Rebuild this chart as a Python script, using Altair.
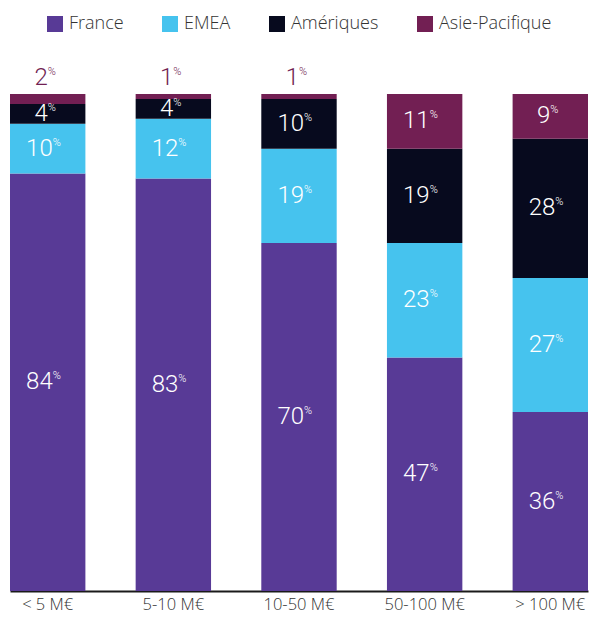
import altair as alt
import pandas as pd

categories = ["< 5 M€", "5-10 M€", "10-50 M€", "50-100 M€", "> 100 M€"]
regions = ["France", "EMEA", "Amériques", "Asie-Pacifique"]
france = [84, 83, 70, 47, 36]
emea = [10, 12, 19, 23, 27]
ameriques = [4, 4, 10, 19, 28]
asie = [2, 1, 1, 11, 9]
colors = ["#583A96", "#46C3EE", "#070A1E", "#721F53"]

rows = []
for k, (series, vals) in enumerate(zip(regions, [france, emea, ameriques, asie])):
    for c, v in zip(categories, vals):
        rows.append({"cat": c, "region": series, "value": v, "order": k})
df = pd.DataFrame(rows)

NUMFONT = "Roboto"
TXTFONT = "Open Sans"

xscale = alt.Scale(domain=categories, range=[2, 580], paddingInner=0.4, paddingOuter=0)
yscale = alt.Scale(domain=[0, 100], nice=False)

base = alt.Chart(df).transform_stack(
    stack="value", as_=["y0", "y1"], groupby=["cat"], sort=[alt.SortField("order", order="ascending")]
).transform_calculate(
    mid="(datum.y0 + datum.y1) / 2"
)

bars = base.mark_bar().encode(
    x=alt.X("cat:N", scale=xscale, sort=categories,
            axis=alt.Axis(title=None, domainColor="#1a1a1a", domainWidth=2, ticks=False,
                          labelAngle=0, labelFontSize=16.5, labelColor="#333333",
                          labelFont=TXTFONT, labelFontWeight=300, labelPadding=5, grid=False)),
    y=alt.Y("y0:Q", scale=yscale, axis=None),
    y2="y1:Q",
    color=alt.Color("region:N", scale=alt.Scale(domain=regions, range=colors),
                    legend=alt.Legend(title=None, orient="none", direction="horizontal",
                                      legendX=38, legendY=-79, columns=4, symbolType="square",
                                      symbolSize=256, symbolStrokeWidth=0, labelFontSize=18,
                                      labelFont=TXTFONT, labelFontWeight=300,
                                      labelColor="#333333", labelOffset=5,
                                      columnPadding=37)),
)

def lbl(flt, num_dx, pct_dx, color, ykey, dy):
    b = base.transform_filter(flt)
    num = b.mark_text(align="right", baseline="middle", dx=num_dx, dy=dy, font=NUMFONT,
                      fontWeight=300, fontSize=24, color=color).encode(
        x=alt.X("cat:N", scale=xscale, sort=categories), y=alt.Y(ykey, scale=yscale),
        text=alt.Text("value:Q"))
    pct = b.mark_text(align="left", baseline="middle", dx=pct_dx, dy=dy - 6, font=NUMFONT,
                      fontWeight=300, fontSize=11, color=color, text="%").encode(
        x=alt.X("cat:N", scale=xscale, sort=categories), y=alt.Y(ykey, scale=yscale))
    return num + pct

inside_big = lbl("datum.value >= 10", 5, 5, "white", "mid:Q", 0)
inside_small = lbl("datum.value < 10 && datum.value > 2", 0, 0, "white", "mid:Q", 0)
outside = lbl("datum.value <= 2", 0, 0, "#721F53", "y1:Q", -16)

chart = alt.layer(bars, inside_big, inside_small, outside).properties(
    width=581, height=497,
    autosize=alt.AutoSizeParams(type="none"),
    padding={"left": 0, "top": 86, "right": 0, "bottom": 24},
).configure_view(stroke=None)

chart.save("out.html", embed_options={"renderer": "svg", "actions": False})
